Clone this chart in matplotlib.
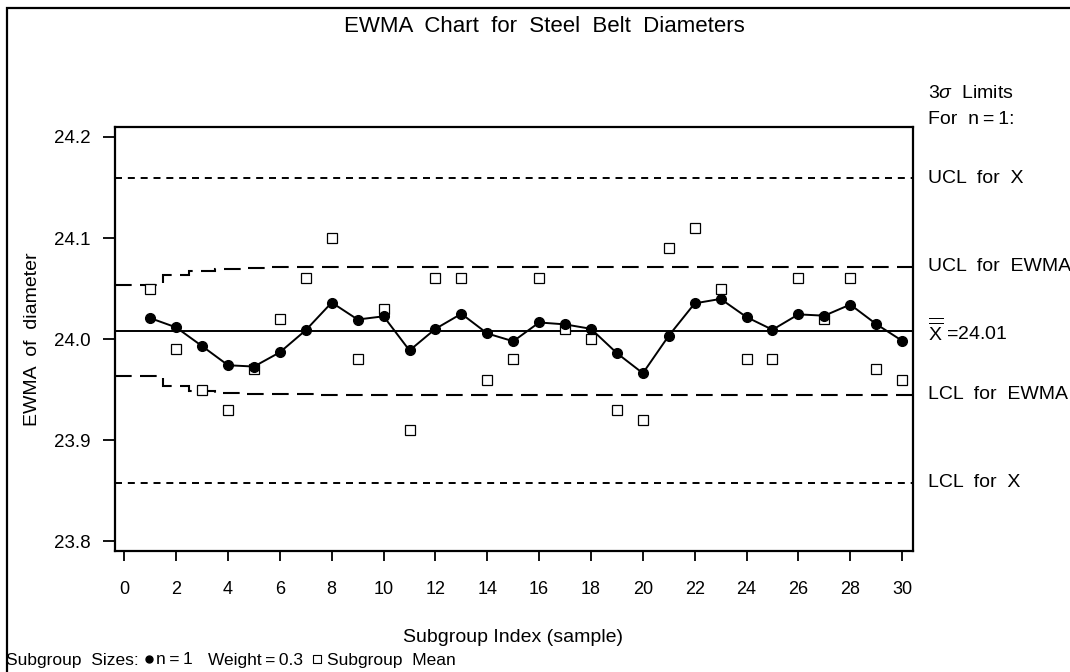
import numpy as np
import matplotlib
matplotlib.use("Agg")
import matplotlib.pyplot as plt
from matplotlib.lines import Line2D
from matplotlib.patches import Rectangle

plt.rcParams['font.family'] = ['Liberation Sans', 'DejaVu Sans']
plt.rcParams['mathtext.fontset'] = 'custom'
plt.rcParams['mathtext.rm'] = 'Liberation Sans'
plt.rcParams['mathtext.it'] = 'Liberation Sans:italic'

# data
sample = list(range(1, 31))
subgroup_mean = [24.05, 23.99, 23.95, 23.93, 23.97, 24.02, 24.06, 24.10, 23.98, 24.03,
                 23.91, 24.06, 24.06, 23.96, 23.98, 24.06, 24.01, 24.00, 23.93, 23.92,
                 24.09, 24.11, 24.05, 23.98, 23.98, 24.06, 24.02, 24.06, 23.97, 23.96]
ewma = [24.0208, 24.0116, 23.9931, 23.9742, 23.9729, 23.9870, 24.0089, 24.0362, 24.0194, 24.0226,
        23.9888, 24.0102, 24.0251, 24.0056, 23.9979, 24.0165, 24.0146, 24.0102, 23.9861, 23.9663,
        24.0034, 24.0354, 24.0398, 24.0218, 24.0093, 24.0245, 24.0232, 24.0342, 24.0149, 23.9984]
ucl_ewma = [24.0535, 24.0634, 24.0677, 24.0697, 24.0706, 24.0711, 24.0713, 24.0714] + [24.0715] * 22
lcl_ewma = [23.9632, 23.9532, 23.9489, 23.9469, 23.9460, 23.9455, 23.9453, 23.9452] + [23.9451] * 22
center = 24.0083
ucl_x = 24.159
lcl_x = 23.858

W, H = 1070, 672
fig = plt.figure(figsize=(W / 100, H / 100), dpi=100)

# outer frame, right and bottom sides run off the page
fig.add_artist(Rectangle((7 / W, -0.1), 1.2, 1 - 7.5 / H + 0.1, transform=fig.transFigure,
                         fill=False, lw=1.6, ec='black'))
# clipped caption line above the frame
fig.text(117 / W, 1 + 9 / H, 'Output 2.3   Displaying the EWMA Chart', fontsize=13,
         fontweight='bold', va='baseline', ha='left')

ax = fig.add_axes([115 / W, 1 - 551 / H, (912.5 - 115) / W, (551 - 127.3) / H])
xmin, xmax = -0.36, 30.4
ax.set_xlim(xmin, xmax)
ax.set_ylim(23.7905, 24.2095)

ax.axhline(ucl_x, color='black', lw=1.4, ls=(0, (3.6, 3.0)))
ax.axhline(lcl_x, color='black', lw=1.4, ls=(0, (3.6, 3.0)))
ax.axhline(center, color='black', lw=1.4)

edges = [xmin] + list(np.arange(1.5, 30, 1.0)) + [xmax]
ax.stairs(ucl_ewma, edges, color='black', lw=1.5, ls=(0, (8, 4)), baseline=None)
ax.stairs(lcl_ewma, edges, color='black', lw=1.5, ls=(0, (8, 4)), baseline=None)

ax.plot(sample, subgroup_mean, ls='none', marker='s', ms=7.5, mfc='white', mec='black', mew=0.9)
ax.plot(sample, ewma, color='black', lw=1.4, marker='o', ms=7)

ax.set_xticks(range(0, 31, 2))
ax.set_yticks([23.8, 23.9, 24.0, 24.1, 24.2])
ax.set_yticklabels(['23.8', '23.9', '24.0', '24.1', '24.2'])
for s in ax.spines.values():
    s.set_linewidth(1.6)
ax.tick_params(axis='x', length=7.5, width=1.3, pad=14, labelsize=13, direction='out')
ax.tick_params(axis='y', length=8.5, width=1.3, pad=9, labelsize=13.5, direction='out')

# titles and labels
fig.text(544 / W, 1 - 27 / H, 'EWMA  Chart  for  Steel  Belt  Diameters', fontsize=16,
         ha='center', va='center')
fig.text(513 / W, 1 - 638 / H, 'Subgroup Index (sample)', fontsize=14, ha='center', va='center')
fig.text(33 / W, 1 - 339 / H, 'EWMA  of  diameter', fontsize=14, rotation=90,
         ha='center', va='center')

# limit labels on the right
lx = 928 / W
fig.text(lx, 1 - 93 / H, r'3$\sigma$  Limits', fontsize=14, va='center')
fig.text(lx, 1 - 119 / H, 'For  n\u2009=\u20091:', fontsize=14, va='center')
for val, lab in [(ucl_x, 'UCL  for  X'), (ucl_ewma[-1], 'UCL  for  EWMA'),
                 (center, r'$\overline{\overline{\mathrm{X}}}$ =24.01'),
                 (lcl_ewma[-1], 'LCL  for  EWMA'), (lcl_x, 'LCL  for  X')]:
    ax.annotate(lab, xy=(1, val), xycoords=('axes fraction', 'data'),
                xytext=(lx, 0), textcoords=('figure fraction', 'offset points'),
                fontsize=14, va='center', annotation_clip=False)

# legend line at the bottom
ly = 1 - 660 / H
fig.text(6 / W, ly, 'Subgroup  Sizes:', fontsize=12.5, va='center')
fig.add_artist(Line2D([149 / W], [ly + 1 / H], marker='o', ms=5, color='black',
                      transform=fig.transFigure))
fig.text(156 / W, ly, 'n\u2009=\u20091', fontsize=12.5, va='center')
fig.text(208 / W, ly, 'Weight\u2009=\u20090.3', fontsize=12.5, va='center')
fig.add_artist(Line2D([317 / W], [ly + 1 / H], marker='s', ms=5.5, mfc='white', mec='black',
                      mew=0.8, transform=fig.transFigure))
fig.text(327 / W, ly, 'Subgroup  Mean', fontsize=12.5, va='center')

fig.savefig('out.png', dpi=100)
